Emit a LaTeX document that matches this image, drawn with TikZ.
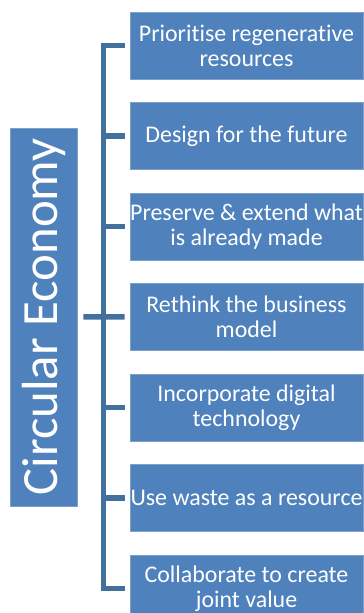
\documentclass[tikz,border=0pt]{standalone}
\usepackage{fontspec}
\setmainfont[Ligatures=NoCommon]{Carlito}
\usetikzlibrary{positioning}
\definecolor{ceblue}{HTML}{4F81BD}
\definecolor{linkblue}{HTML}{41719C}
\definecolor{edgeblue}{HTML}{7EA1CE}
\tikzstyle{topic} = [rectangle, minimum width=233bp, minimum height=67bp, inner sep=0pt, align=center, draw=edgeblue, line width=0.6bp, fill=ceblue, text=white, font=\fontsize{24}{25}\selectfont]
\tikzstyle{title} = [rectangle, rotate=90, minimum width=378bp, minimum height=67bp, inner sep=0pt, draw=edgeblue, line width=0.6bp, fill=ceblue, text=white, font=\fontsize{51}{51}\selectfont]
\tikzstyle{bracket} = [line width=5.5bp, draw=linkblue]
\newcommand{\wideline}[1]{\makebox[225bp]{#1}}

\begin{document}
\begin{tikzpicture}[x=1bp, y=1bp, node distance=90.5bp]
\useasboundingbox (0,0) rectangle (363,613);
\node (prio) [topic] at (246.5,567.5) {Prioritise regenerative\\resources};
\node (design) [topic, below of=prio] {Design for the future};
\node (preserve) [topic, below of=design] {\wideline{Preserve \& extend what}\\is already made};
\node (rethink) [topic, below of=preserve] {Rethink the business\\model};
\node (digital) [topic, below of=rethink] {Incorporate digital\\technology};
\node (waste) [topic, below of=digital] {\wideline{Use waste as a resource}};
\node (collab) [topic, below of=waste] {Collaborate to create\\joint value};

\node (ce) [title] at (43.5,296) {Circular Economy};

\draw [bracket] ([xshift=6bp]ce.south) -- ([xshift=-5bp]rethink.west);
\draw [bracket, line cap=rect] ([xshift=-26bp]prio.west) -- ([xshift=-26bp]collab.west);
\foreach \n in {prio,design,preserve,digital,waste,collab}
  \draw [bracket] ([xshift=-26bp]\n.west) -- ([xshift=-5bp]\n.west);
\end{tikzpicture}
\end{document}
